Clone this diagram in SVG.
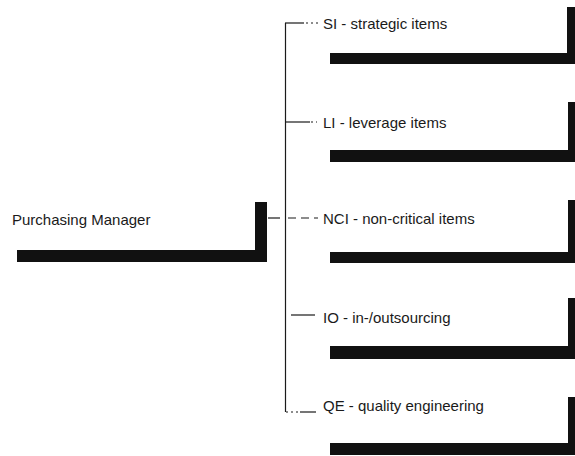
<svg xmlns="http://www.w3.org/2000/svg" width="575" height="456" viewBox="0 0 575 456">
<style>
.lbl{font-family:"Liberation Sans",Arial,Helvetica,sans-serif;font-size:15px;fill:#1a1a1a}
.bar{fill:#111}
.ln{stroke:#1a1a1a;stroke-width:1.2;fill:none}
.dot{stroke:#1a1a1a;stroke-width:1.2;fill:none;stroke-dasharray:2 3}
.dash{stroke:#1a1a1a;stroke-width:1.2;fill:none;stroke-dasharray:8 5}
</style>
<rect width="575" height="456" fill="#fff"/>
<g id="connectors">
<line class="ln" x1="285.5" y1="23" x2="285.5" y2="412"/>
<line class="ln" x1="285" y1="23" x2="304" y2="23"/>
<line class="dot" x1="306" y1="23" x2="318" y2="23"/>
<line class="ln" x1="285" y1="122" x2="310" y2="122"/>
<line class="dot" x1="311" y1="122" x2="317" y2="122"/>
<line class="ln" x1="268" y1="218" x2="280" y2="218"/>
<line class="dash" x1="288" y1="218" x2="318" y2="218"/>
<line class="ln" x1="291" y1="315" x2="315" y2="315"/>
<line class="dot" x1="286" y1="412" x2="300" y2="412"/>
<line class="ln" x1="300" y1="412" x2="316" y2="412"/>
</g>
<g id="pm">
<text class="lbl" x="12" y="225">Purchasing Manager</text>
<rect class="bar" x="17" y="250" width="250" height="12"/>
<rect class="bar" x="255" y="202" width="12" height="60"/>
</g>
<g id="si">
<text class="lbl" x="323" y="29">SI - strategic items</text>
<rect class="bar" x="330" y="53" width="245" height="11"/>
<rect class="bar" x="567" y="7" width="8" height="57"/>
</g>
<g id="li">
<text class="lbl" x="323" y="128">LI - leverage items</text>
<rect class="bar" x="330" y="150" width="245" height="12"/>
<rect class="bar" x="568" y="102" width="7" height="60"/>
</g>
<g id="nci">
<text class="lbl" x="323" y="224">NCI - non-critical items</text>
<rect class="bar" x="330" y="252" width="245" height="11"/>
<rect class="bar" x="568" y="200" width="7" height="63"/>
</g>
<g id="io">
<text class="lbl" x="323" y="323">IO - in-/outsourcing</text>
<rect class="bar" x="330" y="346" width="245" height="13"/>
<rect class="bar" x="568" y="298" width="7" height="61"/>
</g>
<g id="qe">
<text class="lbl" x="323" y="411">QE - quality engineering</text>
<rect class="bar" x="330" y="443" width="245" height="12"/>
<rect class="bar" x="568" y="397" width="7" height="58"/>
</g>
</svg>
